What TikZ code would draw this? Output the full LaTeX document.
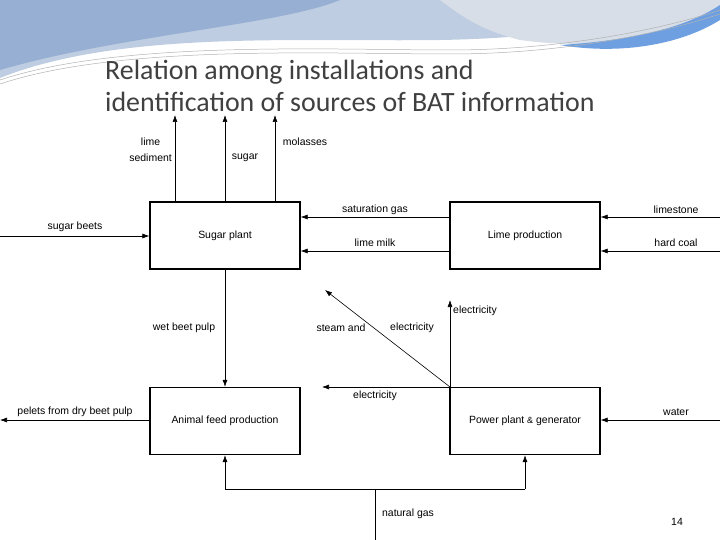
\documentclass[tikz,border=0pt]{standalone}
\usepackage{fontspec}
\setmainfont{Liberation Sans}
\newfontfamily\titlefont{Carlito}
\definecolor{wa}{RGB}{150,175,210}
\definecolor{wb}{RGB}{190,205,225}
\definecolor{wc}{RGB}{215,222,232}
\definecolor{wd}{RGB}{110,160,225}
\begin{document}
\begin{tikzpicture}[x=1bp,y=-1bp,
  box/.style={draw,line width=1.3pt,minimum width=150bp,minimum height=67bp,inner sep=0pt,font=\fontsize{10.5}{12}\selectfont},
  lbl/.style={font=\fontsize{10.5}{16}\selectfont,inner sep=1pt,align=center},
  arr/.style={-{Latex[length=7bp,width=5bp]},line width=0.6pt},
  ln/.style={line width=0.6pt}]
\usetikzlibrary{arrows.meta}
\useasboundingbox (0,0) rectangle (720,540);
\fill[white] (0,0) rectangle (720,540);
% top decoration
\fill[wb] (0,0) -- (700,0) .. controls (650,20) and (560,38) .. (440,40) .. controls (300,42) and (120,30) .. (0,78) -- cycle;
\fill[wa] (0,0) -- (340,0) .. controls (280,25) and (120,35) .. (0,70) -- cycle;
\fill[wc] (440,0) -- (720,0) -- (720,15) .. controls (680,40) and (590,50) .. (520,40) .. controls (480,30) and (460,15) .. (440,0) -- cycle;
\fill[wd] (560,45) .. controls (640,40) and (690,25) .. (720,5) -- (720,20) .. controls (680,45) and (620,55) .. (560,45) -- cycle;
\draw[gray!60,line width=0.5pt] (0,80) .. controls (120,40) and (330,50) .. (450,50) .. controls (560,50) and (660,30) .. (720,10);
\draw[gray!60,line width=0.5pt] (0,84) .. controls (120,44) and (330,54) .. (450,54) .. controls (560,54) and (660,34) .. (720,14);
% title
\node[anchor=west,align=left,text=black!75,font=\titlefont\fontsize{28}{32}\selectfont,inner sep=0pt] (title) at (105,86) {Relation among installations and\\identification of sources of BAT information};
% boxes
\node[box] (sp) at (225,235.5) {Sugar plant};
\node[box] (lp) at (525,235.5) {Lime production};
\node[box] (af) at (225,421) {Animal feed production};
\node[box] (pp) at (525,421) {Power plant {\fontsize{9}{10}\selectfont\&} generator};
% coordinates
\coordinate (t1) at (175,115); \coordinate (t2) at (225,115); \coordinate (t3) at (275,115);
\coordinate (lsb) at (0,236); \coordinate (lpel) at (0,420);
\coordinate (rls) at (720,217); \coordinate (rhc) at (720,251); \coordinate (rw) at (720,420);
\coordinate (se) at (325,290); \coordinate (el) at (450,300);
\coordinate (ng) at (375,540); \coordinate (ngj) at (375,489);
\coordinate (pc) at (450,387);
% arrows
\draw[arr] (sp.north west -| t1) -- (t1);
\draw[arr] (sp.north) -- (t2);
\draw[arr] (sp.north west -| t3) -- (t3);
\draw[arr] (lsb) -- (lsb -| sp.west);
\draw[arr] (lp.west |- rls) -- (sp.east |- rls);
\draw[arr] (lp.west |- rhc) -- (sp.east |- rhc);
\draw[arr] (rls) -- (rls -| lp.east);
\draw[arr] (rhc) -- (rhc -| lp.east);
\draw[arr] (sp.south) -- (af.north);
\draw[arr] (af.west |- lpel) -- (lpel);
\draw[arr] (rw) -- (rw -| pp.east);
\draw[arr] (pc) -- (se);
\draw[arr] (pc) -- (el);
\draw[arr] (pc) -- (322,387);
\draw[ln] (ng) -- (ngj);
\draw[ln] (225,489) -- (525,489);
\draw[arr] (225,489) -- (af.south);
\draw[arr] (525,489) -- (pp.south);
% labels
\node[lbl,anchor=east] (l1) at (173,150) {lime\\sediment};
\node[lbl] (l2) at (245,158) {sugar};
\node[lbl] (l3) at (305,142) {molasses};
\node[lbl] (l4) at (75,227) {sugar beets};
\node[lbl] (l5) at (375,210) {saturation gas};
\node[lbl] (l6) at (375,243) {lime milk};
\node[lbl] (l7) at (676,210) {limestone};
\node[lbl] (l8) at (676,243) {hard coal};
\node[lbl] (l9) at (184,328) {wet beet pulp};
\node[lbl] (l10) at (341,328) {steam and};
\node[lbl] (l11) at (412,328) {electricity};
\node[lbl] (l12) at (475,311) {electricity};
\node[lbl] (l13) at (375,396) {electricity};
\node[lbl] (l14) at (75,412) {pelets from dry beet pulp};
\node[lbl] (l15) at (676,412) {water};
\node[lbl] (l16) at (408,514) {natural gas};
\node[lbl] (pg) at (677,522) {14};
\end{tikzpicture}
\end{document}
